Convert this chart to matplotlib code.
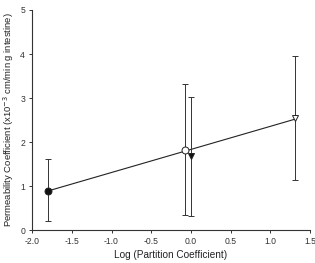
import matplotlib
matplotlib.use("Agg")
import matplotlib.pyplot as plt
import numpy as np

plt.rcParams['font.family'] = ['Liberation Sans', 'DejaVu Sans']

# log partition coefficient vs permeability coefficient
log_pc = [-1.80, -0.08, 0.0, 1.31]
perm = [0.89, 1.82, 1.68, 2.55]
err_hi = [1.61, 3.33, 3.03, 3.95]
err_lo = [0.20, 0.34, 0.32, 1.14]
markers = ['o', 'o', 'v', 'v']
filled = [True, False, True, False]

# regression line
fit_x = [-1.80, 1.31]
fit_slope = 0.524
fit_icpt = 1.833

fig = plt.figure(figsize=(3.15, 2.63), dpi=100)
ax = fig.add_axes([0.102, 0.125, 0.882, 0.837])

fx = np.array(fit_x)
ax.plot(fx, fit_slope*fx + fit_icpt, color='#222222', lw=0.8, zorder=1)

for x, y, hi, lo, m, f in zip(log_pc, perm, err_hi, err_lo, markers, filled):
    ax.errorbar([x], [y], yerr=[[y-lo], [hi-y]], fmt='none', ecolor='#333333',
                elinewidth=0.7, capsize=2, capthick=0.7, zorder=2)
    ax.plot([x], [y], marker=m, ms=5, mec='#222222', mew=0.7,
            mfc='#111111' if f else 'white', ls='none', zorder=3)

ax.set_xlim(-2.0, 1.5)
ax.set_ylim(0, 5)
ax.set_xticks(np.arange(-2.0, 1.51, 0.5))
ax.set_xticklabels(['-2.0', '-1.5', '-1.0', '-0.5', '0.0', '0.5', '1.0', '1.5'])
ax.set_yticks(range(6))
for s in ['top', 'right']:
    ax.spines[s].set_visible(False)
for s in ['left', 'bottom']:
    ax.spines[s].set_linewidth(0.8)
    ax.spines[s].set_color('#333333')
ax.tick_params(direction='out', length=2.5, width=0.7, labelsize=6.2, pad=2.5, colors='#333333')
ax.set_xlabel('Log (Partition Coefficient)', fontsize=7.2, labelpad=2.5, color='#222222')
ax.set_ylabel('Permeability Coefficient (x10$^{-3}$ cm/min g intestine)', fontsize=6.8,
              labelpad=3, color='#222222')

fig.savefig('out.png', dpi=100)
